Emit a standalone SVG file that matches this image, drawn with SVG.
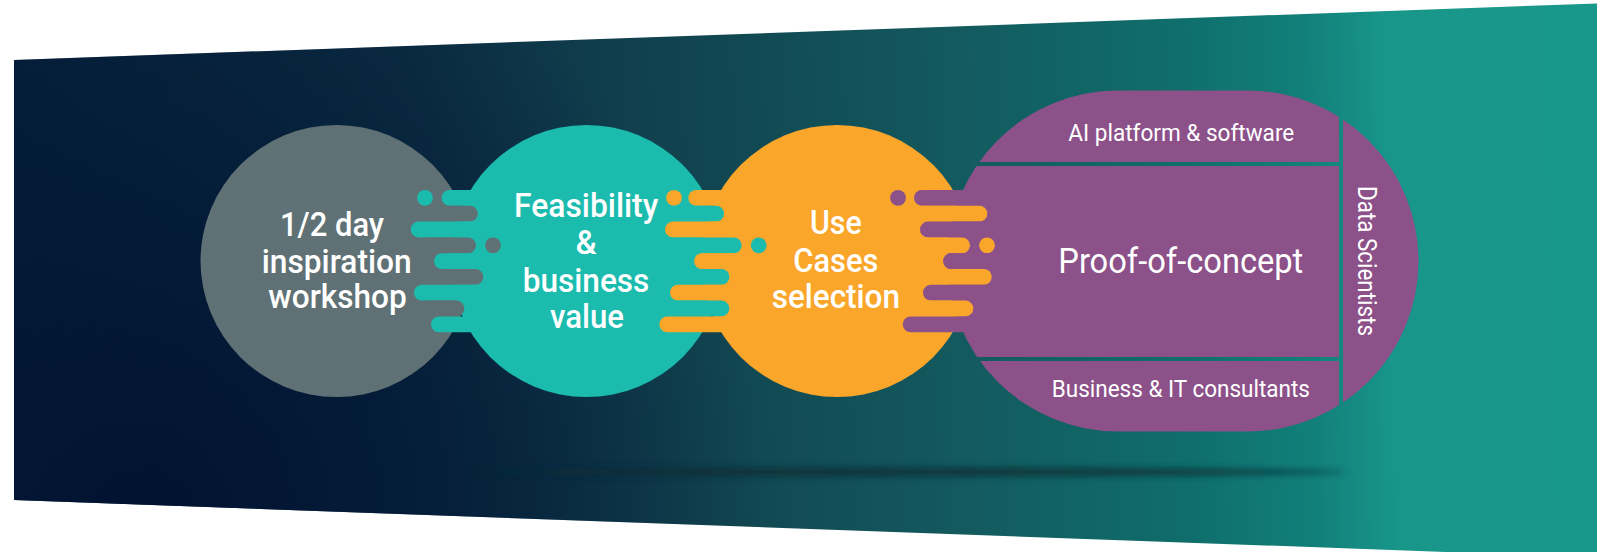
<svg xmlns="http://www.w3.org/2000/svg" width="1605" height="552" viewBox="0 0 1605 552">
<defs>
<linearGradient id="bgGrad" gradientUnits="userSpaceOnUse" x1="14" y1="300" x2="1597" y2="260">
<stop offset="0" stop-color="#06203a"/>
<stop offset="0.25" stop-color="#0b2d43"/>
<stop offset="0.42" stop-color="#11434f"/>
<stop offset="0.6" stop-color="#135a5e"/>
<stop offset="0.74" stop-color="#0f6e6b"/>
<stop offset="0.82" stop-color="#12807a"/>
<stop offset="0.87" stop-color="#18968a"/>
<stop offset="1" stop-color="#18988a"/>
</linearGradient>
<radialGradient id="darkGrad" gradientUnits="userSpaceOnUse" cx="150" cy="520" r="620">
<stop offset="0" stop-color="#011130" stop-opacity="0.95"/>
<stop offset="0.5" stop-color="#021533" stop-opacity="0.6"/>
<stop offset="1" stop-color="#021533" stop-opacity="0"/>
</radialGradient>
<filter id="blur" x="-10%" y="-200%" width="120%" height="500%">
<feGaussianBlur stdDeviation="3"/>
</filter>
<mask id="pocMask" maskUnits="userSpaceOnUse" x="0" y="0" width="1605" height="552">
<rect x="0" y="0" width="1605" height="552" fill="#fff"/>
<rect x="900" y="162" width="443" height="4" fill="#000"/>
<rect x="900" y="357" width="443" height="4" fill="#000"/>
<rect x="1339" y="60" width="4" height="400" fill="#000"/>
</mask>
<style>
.grey{fill:#5f7174}
.teal{fill:#1bbbae}
.orange{fill:#f9a62b}
.purple{fill:#8c5189}
.lbl{font-family:Roboto,"Liberation Sans",Arial,sans-serif;font-weight:500;fill:#ffffff}
.big{font-size:33px}
.small{font-size:24px;font-weight:400}
</style>
</defs>

<g id="background">
<polygon points="14,60 1597,3.5 1597,557.5 14,500" fill="url(#bgGrad)"/>
<polygon points="14,60 1597,3.5 1597,557.5 14,500" fill="url(#darkGrad)"/>
<ellipse cx="905" cy="472" rx="440" ry="4.5" fill="#0b2c36" opacity="0.75" filter="url(#blur)"/>
</g>

<g id="node-workshop">
<circle class="grey" cx="336.5" cy="261" r="136"/>
<text class="lbl big" x="280" y="236" textLength="104" lengthAdjust="spacingAndGlyphs">1/2 day</text>
<text class="lbl big" x="261.7" y="272.7" textLength="150" lengthAdjust="spacingAndGlyphs">inspiration</text>
<text class="lbl big" x="268.3" y="308" textLength="138.4" lengthAdjust="spacingAndGlyphs">workshop</text>
</g>

<g id="node-feasibility">
<circle class="teal" cx="586.5" cy="261" r="136"/>
<text class="lbl big" x="514" y="216.7" textLength="144.3" lengthAdjust="spacingAndGlyphs">Feasibility</text>
<text class="lbl big" x="586" y="254" text-anchor="middle">&amp;</text>
<text class="lbl big" x="522.7" y="291.7" textLength="126.7" lengthAdjust="spacingAndGlyphs">business</text>
<text class="lbl big" x="550" y="328.3" textLength="74" lengthAdjust="spacingAndGlyphs">value</text>
</g>

<g id="node-usecases">
<circle class="orange" cx="837" cy="261" r="136"/>
<text class="lbl big" x="810" y="234.3" textLength="51.7" lengthAdjust="spacingAndGlyphs">Use</text>
<text class="lbl big" x="793.3" y="271.7" textLength="85" lengthAdjust="spacingAndGlyphs">Cases</text>
<text class="lbl big" x="771.7" y="308.3" textLength="128.3" lengthAdjust="spacingAndGlyphs">selection</text>
</g>

<g id="node-poc">
<path class="purple" mask="url(#pocMask)" d="M1118 90.5 L1248 90.5 A170.5 170.5 0 0 1 1248 431.5 L1118 431.5 A170.5 170.5 0 0 1 1118 90.5 Z"/>
<text class="lbl small" x="1068.3" y="140.7" textLength="226" lengthAdjust="spacingAndGlyphs">AI platform &amp; software</text>
<text class="lbl" style="font-size:35px;font-weight:400" x="1058.3" y="272.7" textLength="245" lengthAdjust="spacingAndGlyphs">Proof-of-concept</text>
<text class="lbl small" x="1051.7" y="397.3" textLength="258.3" lengthAdjust="spacingAndGlyphs">Business &amp; IT consultants</text>
<text class="lbl" style="font-size:26px;font-weight:400" transform="translate(1358,186) rotate(90)" x="0" y="0" textLength="150" lengthAdjust="spacingAndGlyphs">Data Scientists</text>
</g>

<g id="connectors">
<!-- workshop -> feasibility -->
<circle class="teal" cx="425" cy="197.9" r="7.9"/>
<rect class="teal" x="441.7" y="190" width="60" height="15.8" rx="7.9"/>
<rect class="grey" x="420" y="205.8" width="57.7" height="15.8" rx="7.9"/>
<rect class="teal" x="410.7" y="221.6" width="90" height="15.8" rx="7.9"/>
<rect class="grey" x="420" y="237.4" width="56" height="15.8" rx="7.9"/>
<circle class="grey" cx="493" cy="245.3" r="7.9"/>
<rect class="teal" x="434" y="253.2" width="66" height="15.8" rx="7.9"/>
<rect class="grey" x="420" y="269" width="63.3" height="15.8" rx="7.9"/>
<rect class="teal" x="414" y="284.8" width="86" height="15.8" rx="7.9"/>
<rect class="grey" x="420" y="300.6" width="44.3" height="15.8" rx="7.9"/>
<rect class="teal" x="431" y="316.4" width="69" height="15.8" rx="7.9"/>
<!-- feasibility -> use cases -->
<circle class="orange" cx="674" cy="197.9" r="7.9"/>
<rect class="orange" x="688.3" y="190" width="72" height="15.8" rx="7.9"/>
<rect class="teal" x="665" y="205.8" width="59" height="15.8" rx="7.9"/>
<rect class="orange" x="665" y="221.6" width="95" height="15.8" rx="7.9"/>
<rect class="teal" x="665" y="237.4" width="76.7" height="15.8" rx="7.9"/>
<circle class="teal" cx="758.7" cy="245.3" r="7.9"/>
<rect class="orange" x="694" y="253.2" width="66" height="15.8" rx="7.9"/>
<rect class="teal" x="665" y="269" width="64.3" height="15.8" rx="7.9"/>
<rect class="orange" x="670" y="284.8" width="90" height="15.8" rx="7.9"/>
<rect class="teal" x="665" y="300.6" width="64.3" height="15.8" rx="7.9"/>
<rect class="orange" x="659.3" y="316.4" width="100" height="15.8" rx="7.9"/>
<!-- use cases -> proof-of-concept -->
<circle class="purple" cx="898" cy="197.9" r="7.9"/>
<rect class="purple" x="914" y="190" width="90" height="15.8" rx="7.9"/>
<rect class="orange" x="905" y="205.8" width="82.3" height="15.8" rx="7.9"/>
<rect class="purple" x="920" y="221.6" width="84" height="15.8" rx="7.9"/>
<rect class="orange" x="905" y="237.4" width="65" height="15.8" rx="7.9"/>
<circle class="orange" cx="987" cy="245.3" r="7.9"/>
<rect class="purple" x="943" y="253.2" width="61" height="15.8" rx="7.9"/>
<rect class="orange" x="905" y="269" width="86.7" height="15.8" rx="7.9"/>
<rect class="purple" x="923" y="284.8" width="81" height="15.8" rx="7.9"/>
<rect class="orange" x="905" y="300.6" width="68.3" height="15.8" rx="7.9"/>
<rect class="purple" x="902.7" y="316.4" width="101" height="15.8" rx="7.9"/>
</g>
</svg>
